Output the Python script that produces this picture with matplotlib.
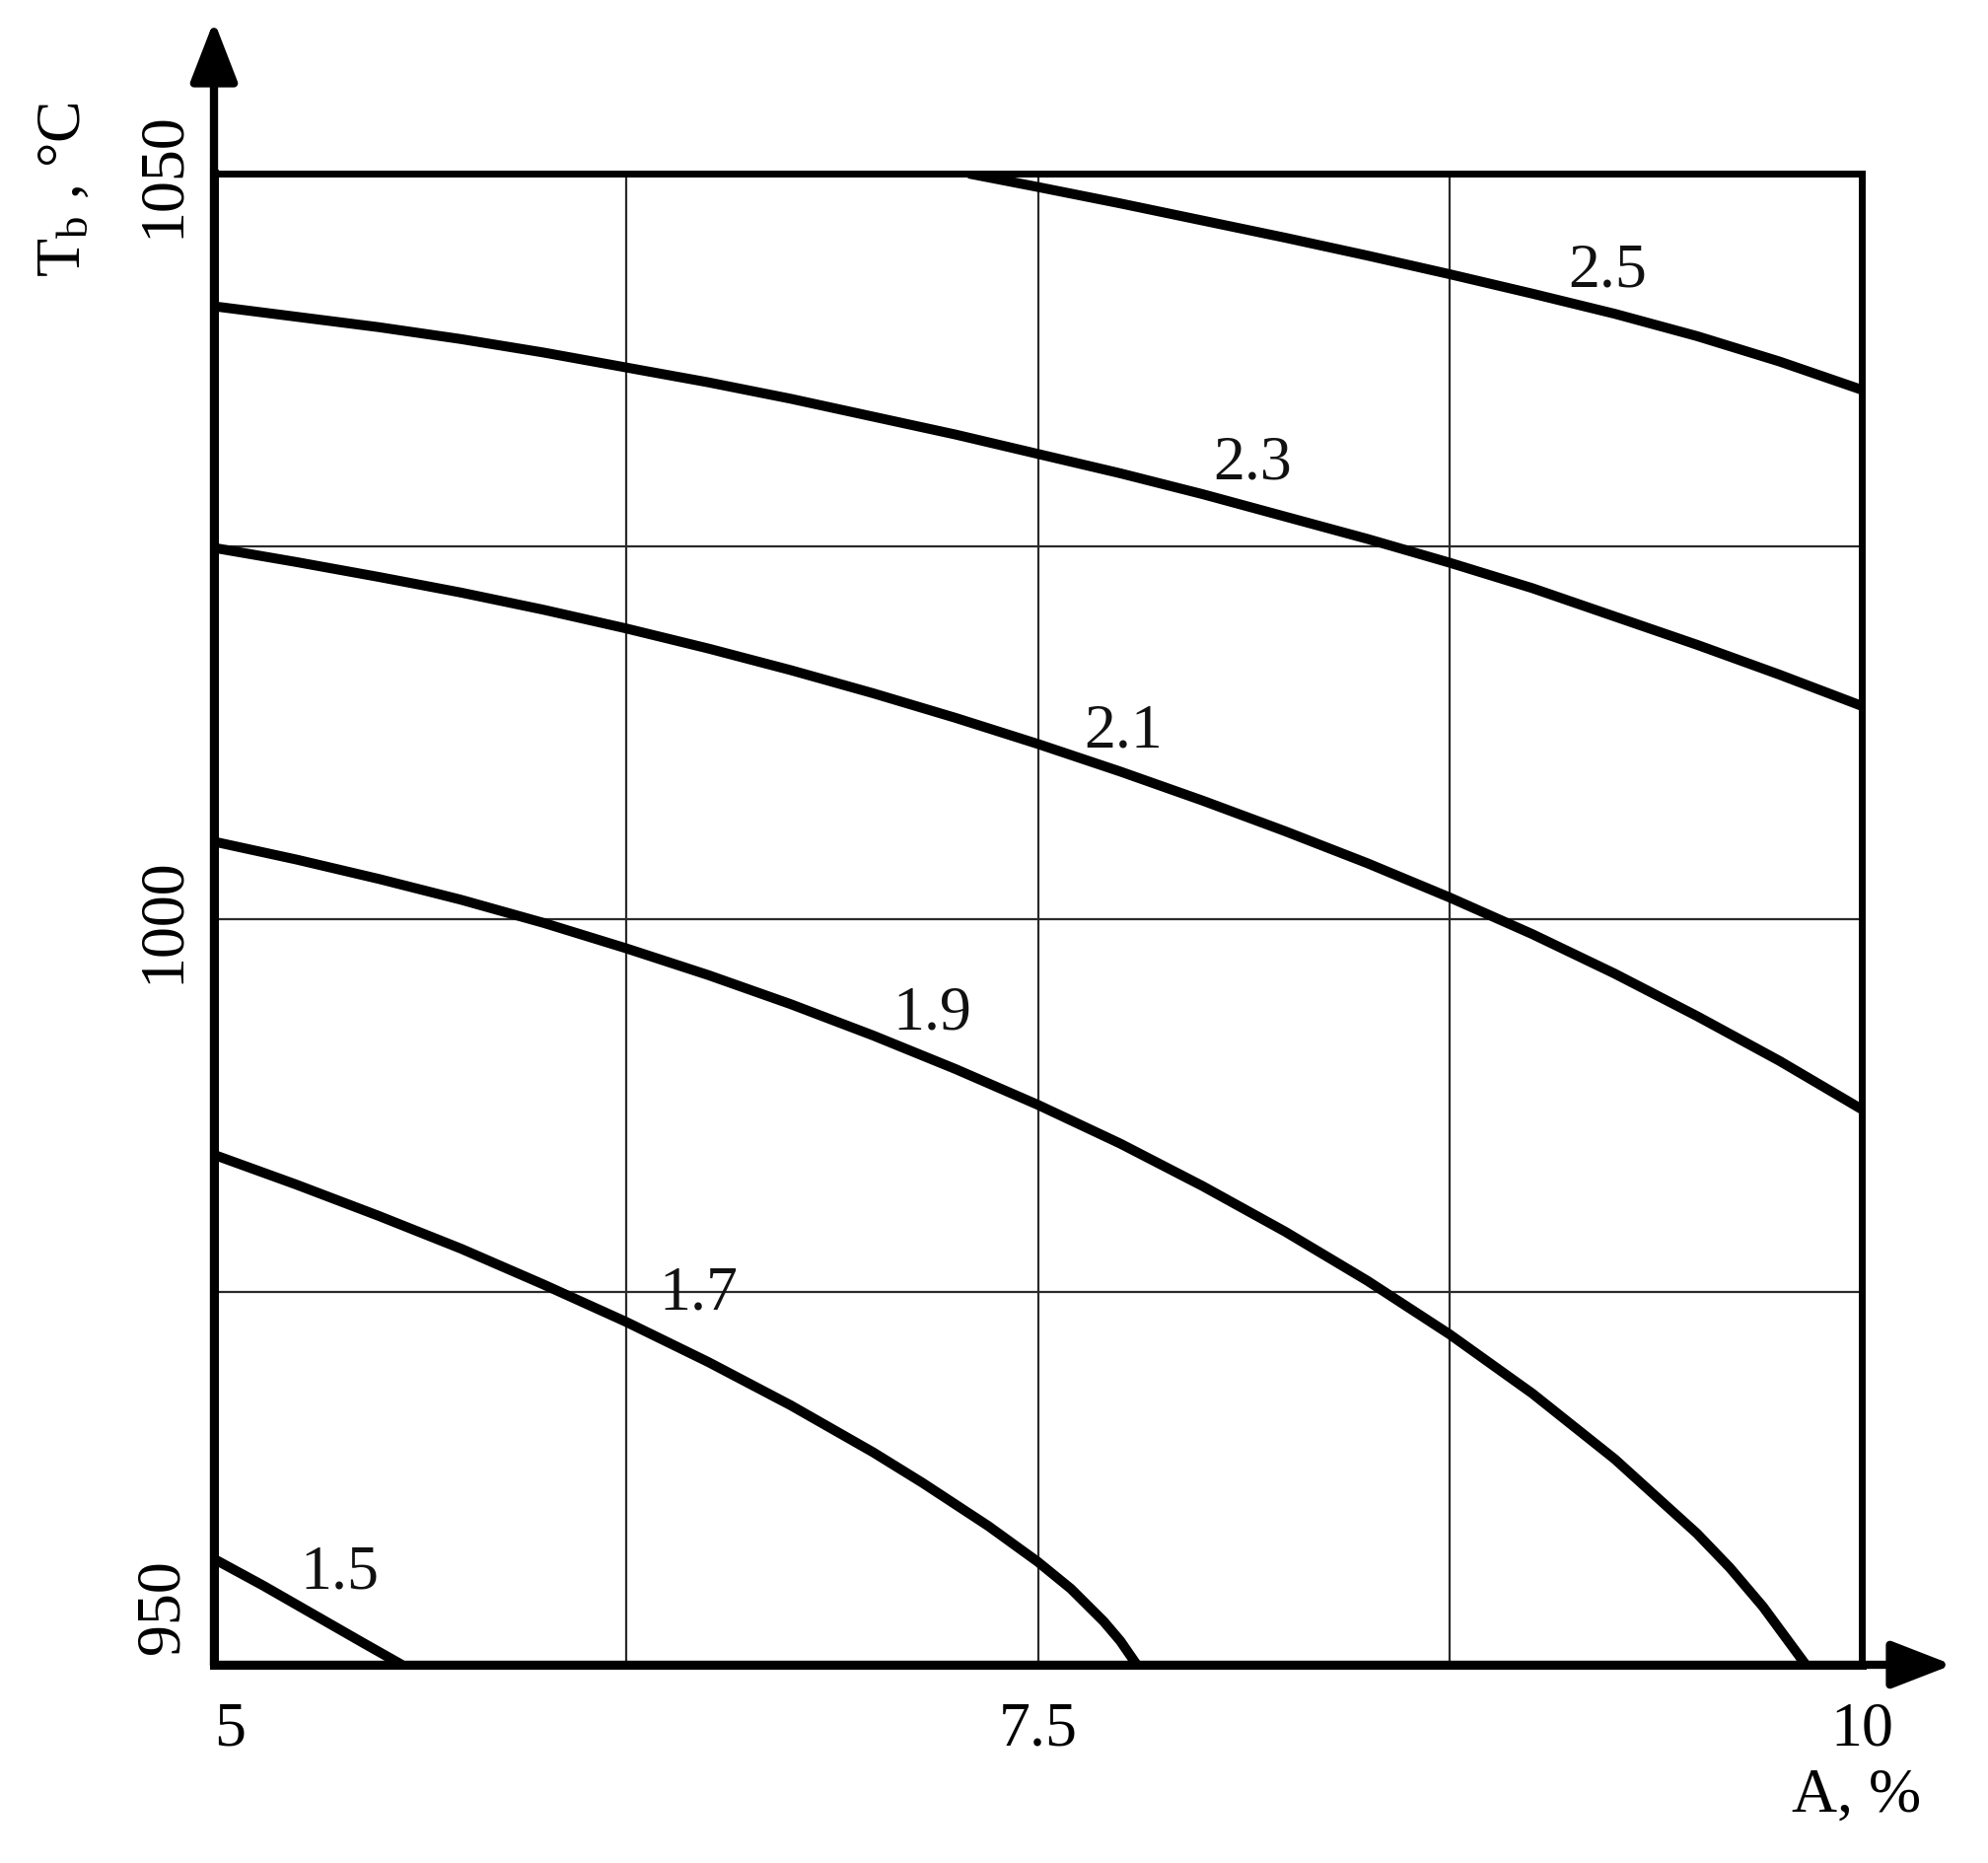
import matplotlib
matplotlib.use("Agg")
import matplotlib.pyplot as plt
from matplotlib.transforms import ScaledTranslation

plt.rcParams['font.family'] = ['Liberation Serif', 'DejaVu Serif']
plt.rcParams['mathtext.fontset'] = 'custom'
plt.rcParams['mathtext.rm'] = 'Liberation Serif'
plt.rcParams['mathtext.it'] = 'Liberation Serif:italic'

# ---- data ----
x_25 = [7.29, 7.5, 7.75, 8.0, 8.25, 8.5, 8.75, 9.0, 9.25, 9.5, 9.75, 10.0]
y_25 = [1050.0, 1049.1, 1048.0, 1046.85, 1045.7, 1044.5, 1043.25, 1041.95, 1040.6, 1039.1, 1037.4, 1035.5]

x_23 = [5.0, 5.25, 5.5, 5.75, 6.0, 6.25, 6.5, 6.75, 7.0, 7.25, 7.5, 7.75, 8.0, 8.25, 8.5, 8.75, 9.0, 9.25, 9.5, 9.75, 10.0]
y_23 = [1041.1, 1040.4, 1039.7, 1038.9, 1038.0, 1037.0, 1036.0, 1034.9, 1033.7, 1032.5, 1031.2, 1029.9,
        1028.5, 1027.0, 1025.5, 1023.9, 1022.2, 1020.3, 1018.4, 1016.4, 1014.3]

x_21 = [5.0, 5.25, 5.5, 5.75, 6.0, 6.25, 6.5, 6.75, 7.0, 7.25, 7.5, 7.75, 8.0, 8.25, 8.5, 8.75, 9.0, 9.25, 9.5, 9.75, 10.0]
y_21 = [1024.9, 1023.95, 1022.95, 1021.9, 1020.75, 1019.5, 1018.15, 1016.7, 1015.15, 1013.5, 1011.75, 1009.9,
        1007.95, 1005.9, 1003.75, 1001.45, 999.0, 996.35, 993.5, 990.5, 987.25]

x_19 = [5.0, 5.25, 5.5, 5.75, 6.0, 6.25, 6.5, 6.75, 7.0, 7.25, 7.5, 7.75, 8.0, 8.25, 8.5, 8.75, 9.0, 9.25, 9.5,
        9.6, 9.7, 9.77, 9.83]
y_19 = [1005.2, 1004.0, 1002.7, 1001.3, 999.75, 998.05, 996.25, 994.3, 992.2, 989.95, 987.55, 984.95,
        982.1, 979.05, 975.75, 972.15, 968.2, 963.8, 958.8, 956.5, 953.9, 951.8, 950.0]

x_17 = [5.0, 5.25, 5.5, 5.75, 6.0, 6.25, 6.5, 6.75, 7.0, 7.15, 7.35, 7.5, 7.6, 7.7, 7.75, 7.775, 7.80]
y_17 = [984.2, 982.2, 980.1, 977.9, 975.5, 973.0, 970.3, 967.4, 964.25, 962.2, 959.3, 956.9, 955.1, 952.9,
        951.6, 950.8, 950.0]

x_15 = [5.0, 5.15, 5.3, 5.45, 5.57]
y_15 = [957.1, 955.3, 953.4, 951.5, 950.0]

curve_x = [x_15, x_17, x_19, x_21, x_23, x_25]
curve_y = [y_15, y_17, y_19, y_21, y_23, y_25]

curve_labels = ["1.5", "1.7", "1.9", "2.1", "2.3", "2.5"]
label_x = [5.38, 6.47, 7.18, 7.76, 8.15, 9.23]
label_y = [956.2, 974.9, 993.7, 1012.6, 1030.6, 1043.5]

grid_x = [6.25, 7.5, 8.75]
grid_y = [975, 1000, 1025]

xticks = [5, 7.5, 10]
xtick_labels = ["5", "7.5", "10"]
yticks = [950, 1000, 1050]
ytick_labels = ["950", "1000", "1050"]

x_label = "A, %"
y_label = "T$_{\\mathrm{b}}$ , °C"

# ---- figure ----
W, H = 2016, 1890
fig = plt.figure(figsize=(W / 100, H / 100), dpi=100)
left, right, top, bottom = 217, 1888, 177, 1689
ax = fig.add_axes([left / W, 1 - bottom / H, (right - left) / W, (bottom - top) / H])
ax.set_xlim(5, 10)
ax.set_ylim(950, 1050)

# grid
ax.vlines(grid_x, 950, 1050, color='#2a2a2a', lw=1.6, zorder=1)
ax.hlines(grid_y, 5, 10, color='#2a2a2a', lw=1.6, zorder=1)

# curves
for cx, cy in zip(curve_x, curve_y):
    ax.plot(cx, cy, color='black', lw=7.2, solid_capstyle='butt', solid_joinstyle='round', zorder=3)

for t, lx, ly in zip(curve_labels, label_x, label_y):
    ax.text(lx, ly, t, fontsize=46, ha='center', va='center', color='#111111', zorder=4)

# spines
for s in ['top', 'right']:
    ax.spines[s].set_linewidth(5.0)
for s in ['left', 'bottom']:
    ax.spines[s].set_linewidth(6.5)
for s in ax.spines.values():
    s.set_color('black')
    s.set_zorder(5)

# ticks
ax.set_xticks(xticks)
ax.set_xticklabels(xtick_labels, fontsize=46)
ax.set_yticks(yticks)
ax.set_yticklabels(ytick_labels, fontsize=46, rotation=90, va='center')
ax.tick_params(axis='both', length=0)
ax.tick_params(axis='x', pad=26)
ax.tick_params(axis='y', pad=16)
xl = ax.get_xticklabels()
xl[0].set_ha('left')
yl = ax.get_yticklabels()
yl[0].set_va('bottom')
yl[0].set_transform(yl[0].get_transform() + ScaledTranslation(0, 12 / 100, fig.dpi_scale_trans))

# axis arrows
tip_y = (bottom - 22) / (bottom - top)
tip_x = (1980 - left) / (right - left)
arrow_kw = dict(arrowstyle='-|>,head_length=0.85,head_width=0.33', mutation_scale=44,
                lw=6.0, color='black', shrinkA=0, shrinkB=0)
ax.annotate('', xy=(0, tip_y), xytext=(0, 0), xycoords='axes fraction',
            textcoords='axes fraction', arrowprops=arrow_kw, annotation_clip=False)
ax.annotate('', xy=(tip_x, 0), xytext=(0, 0), xycoords='axes fraction',
            textcoords='axes fraction', arrowprops=arrow_kw, annotation_clip=False)

# axis labels
fig.text(66 / W, 1 - 192 / H, y_label, rotation=90, fontsize=46, ha='center', va='center')
fig.text(1883 / W, 1 - 1822 / H, x_label, fontsize=46, ha='center', va='center')

fig.savefig('out.png', dpi=100, facecolor='white')
